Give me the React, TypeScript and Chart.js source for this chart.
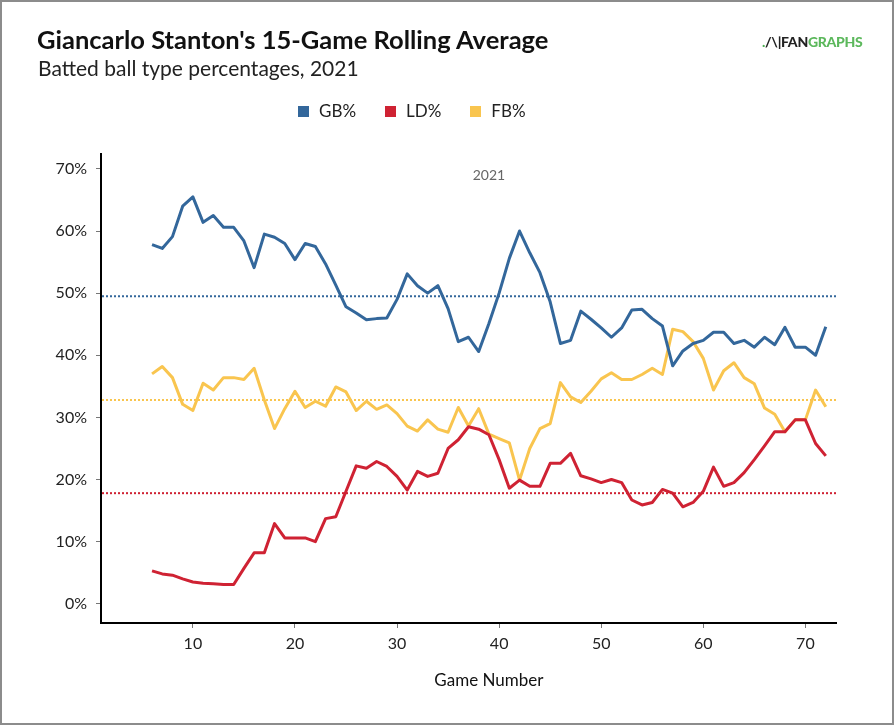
import { useEffect, useRef } from 'react';
import { Chart, registerables } from 'chart.js';

Chart.register(...registerables);

const games = [
    6, 7, 8, 9, 10, 11, 12, 13, 14, 15, 16, 17, 18, 19, 20, 21, 22, 23, 24, 25, 26, 27, 28, 29, 30, 31, 32, 33, 34, 35, 36, 37, 38,
    39, 40, 41, 42, 43, 44, 45, 46, 47, 48, 49, 50, 51, 52, 53, 54, 55, 56, 57, 58, 59, 60, 61, 62, 63, 64, 65, 66, 67, 68, 69, 70, 71, 72,
];

const gbPct = [
    57.8, 57.2, 59.1, 64.0, 65.5, 61.4, 62.5, 60.6, 60.6, 58.4, 54.1, 59.5, 59.0, 58.0, 55.4, 58.0, 57.5, 54.7, 51.3, 47.8, 46.8, 45.7,
    45.9, 46.0, 49.0, 53.1, 51.2, 50.0, 51.2, 47.5, 42.2, 42.9, 40.6,
    45.1, 50.0, 55.6, 60.0, 56.5, 53.3, 48.6, 41.9, 42.4, 47.1, 45.8, 44.4, 42.9, 44.4, 47.3, 47.4, 45.9, 44.7, 38.3, 40.7, 41.9, 42.4,
    43.7, 43.7, 41.9, 42.4, 41.3, 42.9, 41.7, 44.5, 41.3, 41.3, 40.0, 44.6,
];

const ldPct = [
    5.3, 4.8, 4.6, 4.0, 3.5, 3.3, 3.2, 3.1, 3.1, 5.7, 8.2, 8.2, 12.9, 10.6, 10.6, 10.6, 10.0, 13.7, 14.0, 18.1, 22.2, 21.8,
    22.9, 22.1, 20.5, 18.3, 21.3, 20.5, 21.0, 25.0, 26.4, 28.5, 28.1,
    27.2, 23.2, 18.6, 19.9, 18.9, 18.9, 22.6, 22.6, 24.2, 20.6, 20.1, 19.5, 20.0, 19.5, 16.7, 15.9, 16.3, 18.4, 17.8, 15.6, 16.3, 18.1,
    22.0, 18.9, 19.5, 21.1, 23.2, 25.4, 27.7, 27.7, 29.6, 29.6, 25.8, 23.8,
];

const fbPct = [
    37.0, 38.2, 36.4, 32.1, 31.1, 35.5, 34.4, 36.4, 36.4, 36.1, 37.9, 32.8, 28.2, 31.4, 34.2, 31.6, 32.6, 31.8, 34.9, 34.1, 31.1, 32.6,
    31.3, 32.0, 30.6, 28.6, 27.8, 29.6, 28.1, 27.6, 31.6, 28.6, 31.4,
    27.3, 26.6, 25.9, 19.9, 25.0, 28.2, 29.0, 35.6, 33.3, 32.4, 34.2, 36.2, 37.2, 36.1, 36.1, 36.9, 37.9, 36.9, 44.2, 43.8, 42.2, 39.5,
    34.4, 37.5, 38.8, 36.4, 35.4, 31.5, 30.5, 27.7, 29.6, 29.6, 34.4, 31.7,
];

// season averages, drawn as dotted reference lines
const gbAvg = 49.5;
const ldAvg = 17.8;
const fbAvg = 32.8;

const xTicks = [10, 20, 30, 40, 50, 60, 70];
const yTicks = [0, 10, 20, 30, 40, 50, 60, 70];

const BLUE = '#33679b';
const RED = '#cf2233';
const YELLOW = '#f9c54f';

const series = [
    { label: 'GB%', data: gbPct, avg: gbAvg, color: BLUE },
    { label: 'LD%', data: ldPct, avg: ldAvg, color: RED },
    { label: 'FB%', data: fbPct, avg: fbAvg, color: YELLOW },
];

const overlay = {
    id: 'overlay',
    beforeDatasetsDraw(chart: any) {
        const { ctx, chartArea, scales } = chart;
        ctx.save();
        ctx.lineWidth = 2;
        ctx.setLineDash([2, 2]);
        series.forEach(s => {
            const y = scales.y.getPixelForValue(s.avg);
            ctx.strokeStyle = s.color;
            ctx.beginPath();
            ctx.moveTo(chartArea.left + 1, y);
            ctx.lineTo(chartArea.right, y);
            ctx.stroke();
        });
        ctx.restore();
    },
    afterDraw(chart: any) {
        const { ctx, chartArea, scales } = chart;
        const mid = scales.x.getPixelForValue((games[0] + games[games.length - 1]) / 2);
        ctx.save();
        ctx.textAlign = 'center';
        ctx.textBaseline = 'middle';
        ctx.fillStyle = '#666';
        ctx.font = '14px Lato';
        ctx.fillText('2021', mid, chartArea.top + 21);
        ctx.fillStyle = '#111';
        ctx.font = '17px Lato';
        ctx.fillText('Game Number', mid, chartArea.bottom + 58);
        ctx.restore();
    },
};

export default function App() {
    const canvasRef = useRef<HTMLCanvasElement>(null);
    const chartRef = useRef<Chart | null>(null);

    useEffect(() => {
        document.body.style.margin = '0';
        if (!canvasRef.current) return;
        chartRef.current?.destroy();

        chartRef.current = new Chart(canvasRef.current, {
            type: 'line',
            data: {
                labels: games,
                datasets: series.map(s => ({
                    label: s.label,
                    data: s.data,
                    borderColor: s.color,
                    backgroundColor: s.color,
                    borderWidth: 3,
                    pointRadius: 0,
                    tension: 0,
                    borderJoinStyle: 'round',
                })),
            } as any,
            options: {
                responsive: false,
                animation: false,
                layout: { padding: { top: 154, right: 58, bottom: 0, left: 0 } },
                plugins: {
                    legend: { display: false },
                    tooltip: { enabled: false },
                },
                scales: {
                    x: {
                        type: 'linear',
                        min: 1,
                        max: 73,
                        afterBuildTicks: (s: any) => { s.ticks = xTicks.map(v => ({ value: v })); },
                        afterFit: (s: any) => { s.height = 102; },
                        ticks: { font: { family: 'Lato', size: 16 }, color: '#222', padding: 6, maxRotation: 0 },
                        grid: { drawOnChartArea: false, drawTicks: true, tickLength: 5, color: '#777' },
                        border: { color: '#000', width: 2 },
                    },
                    y: {
                        min: -3.1,
                        max: 72.4,
                        afterBuildTicks: (s: any) => { s.ticks = yTicks.map(v => ({ value: v })); },
                        afterFit: (s: any) => { s.width = 101; },
                        ticks: { font: { family: 'Lato', size: 16 }, color: '#222', padding: 9, callback: (v: any) => v + '%' },
                        grid: { drawOnChartArea: false, drawTicks: true, tickLength: 5, color: '#777' },
                        border: { color: '#000', width: 2 },
                    },
                },
            },
            plugins: [overlay],
        });

        return () => { chartRef.current?.destroy(); };
    }, []);

    return (
        <div style={{ position: 'relative', width: 894, height: 725, background: '#fff', fontFamily: 'Lato' }}>
            <canvas ref={canvasRef} width={894} height={725} style={{ position: 'absolute', left: 0, top: 0 }} />
            <div style={{ position: 'absolute', left: 37, top: 23, fontSize: 25.5, fontWeight: 700, color: '#111', lineHeight: '32px' }}>
                Giancarlo Stanton's 15-Game Rolling Average
            </div>
            <div style={{ position: 'absolute', left: 38, top: 55, fontSize: 21, color: '#222', lineHeight: '26px' }}>
                Batted ball type percentages, 2021
            </div>
            <div style={{ position: 'absolute', left: 762, top: 34, fontSize: 14, fontWeight: 900, lineHeight: '16px', letterSpacing: -0.3 }}>
                <span style={{ color: '#4caf50' }}>.</span>
                <span style={{ color: '#222' }}>/\|</span>
                <span style={{ color: '#222' }}>FAN</span>
                <span style={{ color: '#5cb85c' }}>GRAPHS</span>
            </div>
            <div style={{ position: 'absolute', left: 298, top: 101, display: 'flex', alignItems: 'center', fontSize: 17, color: '#222', lineHeight: '20px' }}>
                {series.map(s => (
                    <div key={s.label} style={{ display: 'flex', alignItems: 'center', marginRight: 29 }}>
                        <span style={{ width: 11, height: 11, background: s.color, display: 'inline-block', marginRight: 10 }} />
                        <span>{s.label}</span>
                    </div>
                ))}
            </div>
            <div style={{ position: 'absolute', inset: 0, border: '2px solid #8c8c8c', pointerEvents: 'none' }} />
        </div>
    );
}
